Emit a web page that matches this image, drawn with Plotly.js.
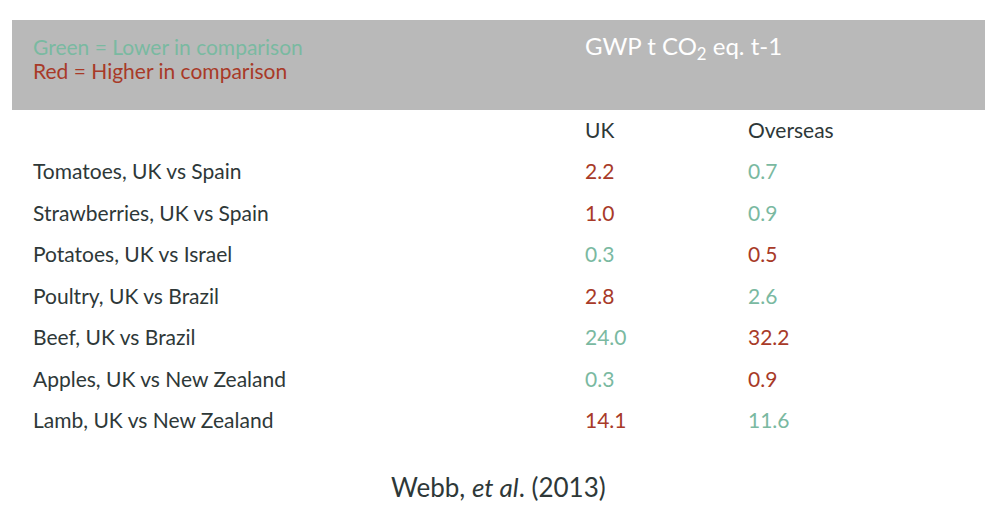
<!DOCTYPE html>
<html>
<head>
<meta charset="utf-8">
<script src="https://cdn.plot.ly/plotly-3.0.1.min.js"></script>
<style>
  html, body { margin: 0; padding: 0; background: #fff; }
  #chart { width: 1000px; height: 516px; }
</style>
</head>
<body>
<div id="chart"></div>
<script>
// Webb et al. (2013) – GWP, t CO2 eq. per tonne, UK vs overseas
const comparisons = [
    'Tomatoes, UK vs Spain',
    'Strawberries, UK vs Spain',
    'Potatoes, UK vs Israel',
    'Poultry, UK vs Brazil',
    'Beef, UK vs Brazil',
    'Apples, UK vs New Zealand',
    'Lamb, UK vs New Zealand'
];
const ukValues = [2.2, 1.0, 0.3, 2.8, 24.0, 0.3, 14.1];
const overseasValues = [0.7, 0.9, 0.5, 2.6, 32.2, 0.9, 11.6];
const columnHeaders = ['UK', 'Overseas'];

const GREEN = '#7ab9a1';
const RED = '#a83a28';
const DARK = '#2e3838';
const FONT = 'Lato, "Open Sans", sans-serif';

// column left edges in px (x axis runs 0..1000 px)
const colX = [33, 585, 748];

const rowIdx = comparisons.map((_, i) => i);
const fmt = v => v.toFixed(1);

// higher value of the pair is red, lower is green
const ukColors = ukValues.map((v, i) => v > overseasValues[i] ? RED : GREEN);
const osColors = overseasValues.map((v, i) => v > ukValues[i] ? RED : GREEN);

const base = {
    type: 'scatter',
    mode: 'text',
    textposition: 'middle right',
    hoverinfo: 'skip',
    showlegend: false,
    cliponaxis: false
};

const traces = [
    Object.assign({}, base, {
        x: comparisons.map(() => colX[0]),
        y: rowIdx,
        text: comparisons,
        textfont: { family: FONT, size: 21, color: DARK }
    }),
    Object.assign({}, base, {
        x: ukValues.map(() => colX[1]),
        y: rowIdx,
        text: ukValues.map(fmt),
        textfont: { family: FONT, size: 21, color: ukColors }
    }),
    Object.assign({}, base, {
        x: overseasValues.map(() => colX[2]),
        y: rowIdx,
        text: overseasValues.map(fmt),
        textfont: { family: FONT, size: 21, color: osColors }
    }),
    // column headers one row above the first data row
    Object.assign({}, base, {
        x: [colX[1], colX[2]],
        y: [-1, -1],
        text: columnHeaders,
        textfont: { family: FONT, size: 21, color: DARK }
    })
];

// y: row index -> 174px + 41.5px per row
const pxPerRow = 41.5;
const yTop = -174 / pxPerRow;
const yBottom = yTop + 516 / pxPerRow;

const layout = {
    width: 1000,
    height: 516,
    margin: { l: 0, r: 0, t: 0, b: 0 },
    paper_bgcolor: '#ffffff',
    plot_bgcolor: '#ffffff',
    xaxis: { range: [0, 1000], visible: false, fixedrange: true },
    yaxis: { range: [yBottom, yTop], visible: false, fixedrange: true },
    shapes: [{
        type: 'rect', xref: 'paper', yref: 'paper',
        x0: 12 / 1000, x1: 985 / 1000,
        y0: 1 - 110 / 516, y1: 1 - 20 / 516,
        fillcolor: '#b9b9b9', line: { width: 0 }, layer: 'below'
    }],
    annotations: [
        {
            xref: 'paper', yref: 'paper', x: 31 / 1000, y: 1 - 46 / 516,
            xanchor: 'left', yanchor: 'middle', showarrow: false,
            text: 'Green = Lower in comparison',
            font: { family: FONT, size: 21, color: GREEN }
        },
        {
            xref: 'paper', yref: 'paper', x: 31 / 1000, y: 1 - 70 / 516,
            xanchor: 'left', yanchor: 'middle', showarrow: false,
            text: 'Red = Higher in comparison',
            font: { family: FONT, size: 21, color: RED }
        },
        {
            xref: 'paper', yref: 'paper', x: 583 / 1000, y: 1 - 48 / 516,
            xanchor: 'left', yanchor: 'middle', showarrow: false,
            text: 'GWP t CO<sub>2</sub> eq. t-1',
            font: { family: FONT, size: 24, color: '#ffffff' }
        },
        {
            xref: 'paper', yref: 'paper', x: 498 / 1000, y: 1 - 487 / 516,
            xanchor: 'center', yanchor: 'middle', showarrow: false,
            text: 'Webb, <i>et al</i>. (2013)',
            font: { family: FONT, size: 26, color: DARK }
        }
    ]
};

Plotly.newPlot('chart', traces, layout, { displayModeBar: false, staticPlot: true });
</script>
</body>
</html>
